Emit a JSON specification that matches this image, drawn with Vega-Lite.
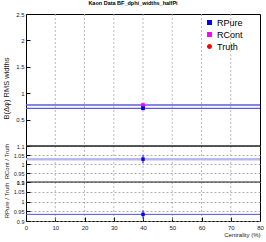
{
  "$schema": "https://vega.github.io/schema/vega-lite/v6.json",
  "autosize": "none",
  "width": 234,
  "height": 207,
  "padding": {"left": 26, "top": 14, "right": 6, "bottom": 21},
  "background": "white",
  "title": {"text": "Kaon Data BF_dphi_widths_halfPi", "font": "Liberation Sans", "fontSize": 5.5, "fontWeight": "bold", "color": "#000", "anchor": "middle", "dx": -10, "offset": 5},
  "config": {
    "view": {"stroke": "#000", "strokeWidth": 1},
    "axis": {"labelFont": "Liberation Sans", "titleFont": "Liberation Sans", "labelColor": "#222", "titleColor": "#222", "titleFontWeight": "normal", "domain": false, "tickColor": "#000", "labelOverlap": false, "labelFlush": false},
    "axisX": {"values": [0, 10, 20, 30, 40, 50, 60, 70, 80], "labelFontSize": 6, "labelPadding": 7, "tickSize": -4, "grid": false, "titleFontSize": 6, "titleAnchor": "end", "titlePadding": 1},
    "legend": {"labelFont": "Liberation Sans"}
  },
  "datasets": {
    "grid": [{"c": 10}, {"c": 20}, {"c": 30}, {"c": 40}, {"c": 50}, {"c": 60}, {"c": 70}],
    "top": [
      {"series": "Truth", "c": 40, "v": 0.755, "lo": 0.75, "hi": 0.76},
      {"series": "RCont", "c": 40, "v": 0.776, "lo": 0.771, "hi": 0.781},
      {"series": "RPure", "c": 40, "v": 0.714, "lo": 0.709, "hi": 0.719}
    ],
    "topLines": [{"v": 0.777}, {"v": 0.713}],
    "mid": [{"c": 40, "v": 1.027, "lo": 1.005, "hi": 1.049}],
    "bot": [{"c": 40, "v": 0.934, "lo": 0.914, "hi": 0.954}]
  },
  "resolve": {"scale": {"y": "independent"}, "axis": {"y": "independent"}},
  "layer": [
    {
      "data": {"name": "grid"},
      "mark": {"type": "rule", "color": "#aaa", "strokeDash": [2, 2], "strokeWidth": 0.8},
      "encoding": {"x": {"field": "c", "type": "quantitative", "title": "Centrality (%)", "scale": {"domain": [0, 80], "nice": false, "zero": false}}}
    },
    {
      "layer": [
        {
          "data": {"name": "topLines"},
          "mark": {"type": "rule", "color": "#5a5ae0", "strokeWidth": 1.4},
          "encoding": {"y": {"field": "v", "type": "quantitative", "scale": {"domain": [0, 2.5], "range": [132, 0], "nice": false, "zero": false},
            "axis": {"orient": "left", "values": [0.5, 1, 1.5, 2, 2.5], "format": "~g", "labelFontSize": 6, "labelPadding": 6, "tickSize": -4, "grid": false, "title": "B(Δφ) RMS widths", "titleFontSize": 7.5, "titleX": -20, "titleY": 74, "titleAnchor": null, "titleAlign": "center", "titleBaseline": "middle"}}}
        },
        {
          "data": {"values": [{"v": 0}]},
          "mark": {"type": "rule", "color": "#222", "strokeWidth": 1.2},
          "encoding": {"y": {"field": "v", "type": "quantitative"}}
        },
        {
          "data": {"name": "top"},
          "mark": {"type": "rule", "strokeWidth": 1},
          "encoding": {
            "x": {"field": "c", "type": "quantitative", "title": "Centrality (%)"},
            "y": {"field": "lo", "type": "quantitative"},
            "y2": {"field": "hi"},
            "color": {"field": "series", "type": "nominal", "scale": {"domain": ["RPure", "RCont", "Truth"], "range": ["#0000ff", "#ff00ff", "#ff0000"]},
              "legend": {"title": null, "orient": "none", "legendX": 179, "legendY": 4, "padding": 0, "labelFontSize": 9, "labelColor": "#000", "labelOffset": 3, "rowPadding": 1, "symbolSize": 12}}
          }
        },
        {
          "data": {"name": "top"},
          "mark": {"type": "point", "filled": true, "opacity": 1, "size": 14},
          "encoding": {
            "x": {"field": "c", "type": "quantitative", "title": "Centrality (%)"},
            "y": {"field": "v", "type": "quantitative"},
            "color": {"field": "series", "type": "nominal", "scale": {"domain": ["RPure", "RCont", "Truth"], "range": ["#0000ff", "#ff00ff", "#ff0000"]},
              "legend": {"title": null, "orient": "none", "legendX": 179, "legendY": 4, "padding": 0, "labelFontSize": 9, "labelColor": "#000", "labelOffset": 3, "rowPadding": 1, "symbolSize": 12}},
            "shape": {"field": "series", "type": "nominal", "scale": {"domain": ["RPure", "RCont", "Truth"], "range": ["square", "square", "circle"]},
              "legend": {"title": null, "orient": "none", "legendX": 179, "legendY": 4, "padding": 0, "labelFontSize": 9, "labelColor": "#000", "labelOffset": 3, "rowPadding": 1, "symbolSize": 12}}
          }
        }
      ]
    },
    {
      "layer": [
        {
          "data": {"values": [{"v": 1.027}]},
          "mark": {"type": "rule", "color": "#b8b8f0", "strokeWidth": 2.5},
          "encoding": {"y": {"field": "v", "type": "quantitative", "scale": {"domain": [0.9, 1.1], "range": [168, 132], "nice": false, "zero": false},
            "axis": {"orient": "left", "values": [0.9, 0.95, 1, 1.05, 1.1], "format": "~g", "labelFontSize": 5.5, "labelPadding": 6, "tickSize": -4, "grid": true, "gridColor": "#999", "gridDash": [2, 2], "gridWidth": 0.8, "title": "RCont / Truth", "titleFontSize": 6, "titleX": -20, "titleY": 147, "titleAnchor": null, "titleAlign": "center", "titleBaseline": "middle"}}}
        },
        {
          "data": {"values": [{"v": 1.1}]},
          "mark": {"type": "rule", "color": "#222", "strokeWidth": 1.2},
          "encoding": {"y": {"field": "v", "type": "quantitative"}}
        },
        {
          "data": {"name": "mid"},
          "mark": {"type": "rule", "color": "#0000ff", "strokeWidth": 1},
          "encoding": {"x": {"field": "c", "type": "quantitative", "title": "Centrality (%)"}, "y": {"field": "lo", "type": "quantitative"}, "y2": {"field": "hi"}}
        },
        {
          "data": {"name": "mid"},
          "mark": {"type": "square", "color": "#0000ff", "opacity": 1, "size": 12},
          "encoding": {"x": {"field": "c", "type": "quantitative", "title": "Centrality (%)"}, "y": {"field": "v", "type": "quantitative"}}
        }
      ]
    },
    {
      "layer": [
        {
          "data": {"values": [{"v": 0.934}]},
          "mark": {"type": "rule", "color": "#5050dd", "strokeWidth": 1},
          "encoding": {"y": {"field": "v", "type": "quantitative", "scale": {"domain": [0.9, 1.1], "range": [207, 168], "nice": false, "zero": false},
            "axis": {"orient": "left", "values": [0.9, 0.95, 1, 1.05, 1.1], "format": "~g", "labelFontSize": 5.5, "labelPadding": 6, "tickSize": -4, "grid": true, "gridColor": "#999", "gridDash": [2, 2], "gridWidth": 0.8, "title": "RPure / Truth", "titleFontSize": 6, "titleX": -20, "titleY": 186, "titleAnchor": null, "titleAlign": "center", "titleBaseline": "middle"}}}
        },
        {
          "data": {"values": [{"v": 1.1}]},
          "mark": {"type": "rule", "color": "#222", "strokeWidth": 1.2},
          "encoding": {"y": {"field": "v", "type": "quantitative"}}
        },
        {
          "data": {"name": "bot"},
          "mark": {"type": "rule", "color": "#0000ff", "strokeWidth": 1},
          "encoding": {"x": {"field": "c", "type": "quantitative", "title": "Centrality (%)"}, "y": {"field": "lo", "type": "quantitative"}, "y2": {"field": "hi"}}
        },
        {
          "data": {"name": "bot"},
          "mark": {"type": "square", "color": "#0000ff", "opacity": 1, "size": 12},
          "encoding": {"x": {"field": "c", "type": "quantitative", "title": "Centrality (%)"}, "y": {"field": "v", "type": "quantitative"}}
        }
      ]
    }
  ]
}
